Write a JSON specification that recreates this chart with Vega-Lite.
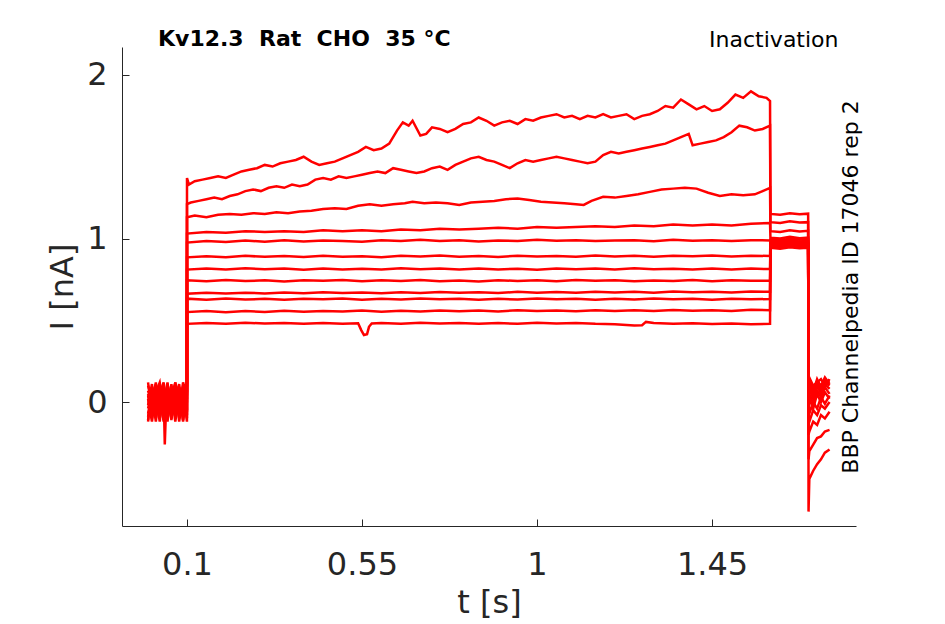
{
  "$schema": "https://vega.github.io/schema/vega-lite/v6.json",
  "width": 734,
  "height": 479,
  "autosize": "none",
  "padding": {"left": 122, "top": 47, "right": 89, "bottom": 98},
  "background": "white",
  "title": {"text": "Kv12.3\u00a0\u00a0Rat\u00a0\u00a0CHO\u00a0\u00a035\u00a0°C", "anchor": "start", "frame": "group", "dx": 36, "offset": -40, "font": "DejaVu Sans", "fontSize": 22, "fontWeight": "bold", "color": "#000000", "baseline": "alphabetic"},
  "config": {
    "view": {"stroke": null},
    "axis": {"grid": false, "domainColor": "#262626", "tickColor": "#262626", "labelColor": "#262626", "titleColor": "#262626", "labelFont": "DejaVu Sans", "titleFont": "DejaVu Sans", "titleFontWeight": "normal"}
  },
  "datasets": {
    "traces": [
      {"s":1,"t":0,"I":0.05},{"s":1,"t":0.01,"I":-0.06},{"s":1,"t":0.02,"I":0.08},{"s":1,"t":0.03,"I":-0.02},{"s":1,"t":0.04,"I":0.10},{"s":1,"t":0.05,"I":-0.08},{"s":1,"t":0.06,"I":0.04},{"s":1,"t":0.07,"I":-0.05},{"s":1,"t":0.08,"I":0.09},{"s":1,"t":0.09,"I":-0.03},{"s":1,"t":0.1,"I":0.02},
      {"s":1,"t":0.1001,"I":1.37},{"s":1,"t":0.105,"I":1.33},{"s":1,"t":0.12,"I":1.35},{"s":1,"t":0.14,"I":1.36},{"s":1,"t":0.16,"I":1.37},{"s":1,"t":0.18,"I":1.38},{"s":1,"t":0.2,"I":1.37},{"s":1,"t":0.22,"I":1.39},{"s":1,"t":0.24,"I":1.41},{"s":1,"t":0.26,"I":1.42},{"s":1,"t":0.28,"I":1.43},{"s":1,"t":0.3,"I":1.45},{"s":1,"t":0.32,"I":1.44},{"s":1,"t":0.34,"I":1.46},{"s":1,"t":0.36,"I":1.47},{"s":1,"t":0.38,"I":1.48},{"s":1,"t":0.4,"I":1.5},{"s":1,"t":0.42,"I":1.47},{"s":1,"t":0.44,"I":1.45},{"s":1,"t":0.46,"I":1.46},{"s":1,"t":0.48,"I":1.47},{"s":1,"t":0.5,"I":1.49},{"s":1,"t":0.52,"I":1.51},{"s":1,"t":0.54,"I":1.53},{"s":1,"t":0.56,"I":1.56},{"s":1,"t":0.58,"I":1.54},{"s":1,"t":0.6,"I":1.55},{"s":1,"t":0.62,"I":1.58},{"s":1,"t":0.64,"I":1.66},{"s":1,"t":0.655,"I":1.71},{"s":1,"t":0.67,"I":1.69},{"s":1,"t":0.68,"I":1.72},{"s":1,"t":0.7,"I":1.63},{"s":1,"t":0.715,"I":1.64},{"s":1,"t":0.73,"I":1.68},{"s":1,"t":0.75,"I":1.67},{"s":1,"t":0.77,"I":1.65},{"s":1,"t":0.79,"I":1.67},{"s":1,"t":0.81,"I":1.7},{"s":1,"t":0.83,"I":1.71},{"s":1,"t":0.85,"I":1.74},{"s":1,"t":0.87,"I":1.72},{"s":1,"t":0.89,"I":1.69},{"s":1,"t":0.91,"I":1.71},{"s":1,"t":0.93,"I":1.72},{"s":1,"t":0.95,"I":1.7},{"s":1,"t":0.97,"I":1.73},{"s":1,"t":0.99,"I":1.72},{"s":1,"t":1.01,"I":1.74},{"s":1,"t":1.03,"I":1.75},{"s":1,"t":1.05,"I":1.76},{"s":1,"t":1.07,"I":1.74},{"s":1,"t":1.09,"I":1.75},{"s":1,"t":1.11,"I":1.73},{"s":1,"t":1.13,"I":1.75},{"s":1,"t":1.15,"I":1.74},{"s":1,"t":1.17,"I":1.76},{"s":1,"t":1.19,"I":1.74},{"s":1,"t":1.21,"I":1.75},{"s":1,"t":1.23,"I":1.76},{"s":1,"t":1.25,"I":1.73},{"s":1,"t":1.27,"I":1.75},{"s":1,"t":1.29,"I":1.76},{"s":1,"t":1.31,"I":1.78},{"s":1,"t":1.33,"I":1.81},{"s":1,"t":1.35,"I":1.8},{"s":1,"t":1.37,"I":1.85},{"s":1,"t":1.39,"I":1.82},{"s":1,"t":1.41,"I":1.79},{"s":1,"t":1.43,"I":1.81},{"s":1,"t":1.45,"I":1.78},{"s":1,"t":1.47,"I":1.79},{"s":1,"t":1.49,"I":1.83},{"s":1,"t":1.51,"I":1.88},{"s":1,"t":1.53,"I":1.86},{"s":1,"t":1.55,"I":1.9},{"s":1,"t":1.57,"I":1.87},{"s":1,"t":1.59,"I":1.86},{"s":1,"t":1.599,"I":1.84},
      {"s":1,"t":1.6,"I":1.15},{"s":1,"t":1.625,"I":1.145},{"s":1,"t":1.65,"I":1.155},{"s":1,"t":1.675,"I":1.148},{"s":1,"t":1.697,"I":1.152},
      {"s":1,"t":1.698,"I":-0.67},{"s":1,"t":1.7,"I":-0.47},{"s":1,"t":1.71,"I":-0.42},{"s":1,"t":1.72,"I":-0.38},{"s":1,"t":1.73,"I":-0.35},{"s":1,"t":1.74,"I":-0.31},{"s":1,"t":1.752,"I":-0.29},

      {"s":2,"t":0,"I":-0.04},{"s":2,"t":0.01,"I":0.07},{"s":2,"t":0.02,"I":-0.1},{"s":2,"t":0.03,"I":0.03},{"s":2,"t":0.04,"I":-0.06},{"s":2,"t":0.05,"I":0.11},{"s":2,"t":0.06,"I":-0.02},{"s":2,"t":0.07,"I":0.06},{"s":2,"t":0.08,"I":-0.09},{"s":2,"t":0.09,"I":0.04},{"s":2,"t":0.1,"I":-0.05},
      {"s":2,"t":0.1001,"I":1.21},{"s":2,"t":0.11,"I":1.22},{"s":2,"t":0.13,"I":1.23},{"s":2,"t":0.15,"I":1.24},{"s":2,"t":0.17,"I":1.25},{"s":2,"t":0.19,"I":1.24},{"s":2,"t":0.21,"I":1.26},{"s":2,"t":0.23,"I":1.27},{"s":2,"t":0.25,"I":1.29},{"s":2,"t":0.27,"I":1.3},{"s":2,"t":0.29,"I":1.29},{"s":2,"t":0.31,"I":1.31},{"s":2,"t":0.33,"I":1.32},{"s":2,"t":0.35,"I":1.31},{"s":2,"t":0.37,"I":1.33},{"s":2,"t":0.39,"I":1.32},{"s":2,"t":0.41,"I":1.33},{"s":2,"t":0.43,"I":1.36},{"s":2,"t":0.45,"I":1.37},{"s":2,"t":0.47,"I":1.36},{"s":2,"t":0.49,"I":1.38},{"s":2,"t":0.51,"I":1.37},{"s":2,"t":0.53,"I":1.38},{"s":2,"t":0.55,"I":1.39},{"s":2,"t":0.57,"I":1.4},{"s":2,"t":0.59,"I":1.41},{"s":2,"t":0.61,"I":1.4},{"s":2,"t":0.63,"I":1.43},{"s":2,"t":0.65,"I":1.42},{"s":2,"t":0.67,"I":1.41},{"s":2,"t":0.69,"I":1.4},{"s":2,"t":0.71,"I":1.41},{"s":2,"t":0.73,"I":1.43},{"s":2,"t":0.75,"I":1.44},{"s":2,"t":0.77,"I":1.42},{"s":2,"t":0.79,"I":1.45},{"s":2,"t":0.81,"I":1.47},{"s":2,"t":0.83,"I":1.49},{"s":2,"t":0.85,"I":1.5},{"s":2,"t":0.87,"I":1.48},{"s":2,"t":0.89,"I":1.47},{"s":2,"t":0.91,"I":1.45},{"s":2,"t":0.93,"I":1.43},{"s":2,"t":0.95,"I":1.46},{"s":2,"t":0.97,"I":1.48},{"s":2,"t":0.99,"I":1.47},{"s":2,"t":1.01,"I":1.48},{"s":2,"t":1.03,"I":1.49},{"s":2,"t":1.05,"I":1.5},{"s":2,"t":1.07,"I":1.49},{"s":2,"t":1.09,"I":1.48},{"s":2,"t":1.11,"I":1.47},{"s":2,"t":1.13,"I":1.46},{"s":2,"t":1.15,"I":1.47},{"s":2,"t":1.17,"I":1.51},{"s":2,"t":1.19,"I":1.53},{"s":2,"t":1.21,"I":1.52},{"s":2,"t":1.23,"I":1.53},{"s":2,"t":1.25,"I":1.54},{"s":2,"t":1.27,"I":1.55},{"s":2,"t":1.29,"I":1.56},{"s":2,"t":1.31,"I":1.57},{"s":2,"t":1.33,"I":1.58},{"s":2,"t":1.35,"I":1.6},{"s":2,"t":1.37,"I":1.62},{"s":2,"t":1.39,"I":1.64},{"s":2,"t":1.4,"I":1.57},{"s":2,"t":1.42,"I":1.58},{"s":2,"t":1.44,"I":1.59},{"s":2,"t":1.46,"I":1.6},{"s":2,"t":1.48,"I":1.62},{"s":2,"t":1.5,"I":1.65},{"s":2,"t":1.52,"I":1.69},{"s":2,"t":1.54,"I":1.68},{"s":2,"t":1.56,"I":1.66},{"s":2,"t":1.58,"I":1.67},{"s":2,"t":1.599,"I":1.69},
      {"s":2,"t":1.6,"I":1.1},{"s":2,"t":1.625,"I":1.095},{"s":2,"t":1.65,"I":1.105},{"s":2,"t":1.675,"I":1.098},{"s":2,"t":1.697,"I":1.1},
      {"s":2,"t":1.698,"I":-0.35},{"s":2,"t":1.7,"I":-0.3},{"s":2,"t":1.71,"I":-0.26},{"s":2,"t":1.72,"I":-0.22},{"s":2,"t":1.73,"I":-0.21},{"s":2,"t":1.74,"I":-0.18},{"s":2,"t":1.752,"I":-0.17},

      {"s":3,"t":0,"I":0.1},{"s":3,"t":0.01,"I":0.02},{"s":3,"t":0.02,"I":-0.05},{"s":3,"t":0.03,"I":0.09},{"s":3,"t":0.04,"I":-0.11},{"s":3,"t":0.05,"I":0.05},{"s":3,"t":0.06,"I":-0.07},{"s":3,"t":0.07,"I":0.12},{"s":3,"t":0.08,"I":0.0},{"s":3,"t":0.09,"I":-0.08},{"s":3,"t":0.1,"I":0.07},
      {"s":3,"t":0.1001,"I":1.13},{"s":3,"t":0.12,"I":1.14},{"s":3,"t":0.15,"I":1.13},{"s":3,"t":0.18,"I":1.145},{"s":3,"t":0.21,"I":1.15},{"s":3,"t":0.24,"I":1.145},{"s":3,"t":0.27,"I":1.155},{"s":3,"t":0.3,"I":1.15},{"s":3,"t":0.33,"I":1.16},{"s":3,"t":0.36,"I":1.155},{"s":3,"t":0.39,"I":1.165},{"s":3,"t":0.42,"I":1.17},{"s":3,"t":0.45,"I":1.18},{"s":3,"t":0.48,"I":1.185},{"s":3,"t":0.51,"I":1.18},{"s":3,"t":0.54,"I":1.2},{"s":3,"t":0.57,"I":1.21},{"s":3,"t":0.6,"I":1.2},{"s":3,"t":0.63,"I":1.21},{"s":3,"t":0.66,"I":1.215},{"s":3,"t":0.68,"I":1.225},{"s":3,"t":0.71,"I":1.215},{"s":3,"t":0.74,"I":1.22},{"s":3,"t":0.77,"I":1.215},{"s":3,"t":0.8,"I":1.205},{"s":3,"t":0.83,"I":1.22},{"s":3,"t":0.86,"I":1.225},{"s":3,"t":0.89,"I":1.23},{"s":3,"t":0.92,"I":1.24},{"s":3,"t":0.95,"I":1.245},{"s":3,"t":0.98,"I":1.235},{"s":3,"t":1.01,"I":1.225},{"s":3,"t":1.04,"I":1.22},{"s":3,"t":1.07,"I":1.215},{"s":3,"t":1.1,"I":1.21},{"s":3,"t":1.12,"I":1.205},{"s":3,"t":1.14,"I":1.23},{"s":3,"t":1.17,"I":1.255},{"s":3,"t":1.2,"I":1.25},{"s":3,"t":1.23,"I":1.26},{"s":3,"t":1.26,"I":1.27},{"s":3,"t":1.29,"I":1.285},{"s":3,"t":1.32,"I":1.3},{"s":3,"t":1.35,"I":1.305},{"s":3,"t":1.38,"I":1.31},{"s":3,"t":1.41,"I":1.305},{"s":3,"t":1.44,"I":1.28},{"s":3,"t":1.47,"I":1.26},{"s":3,"t":1.5,"I":1.27},{"s":3,"t":1.53,"I":1.265},{"s":3,"t":1.56,"I":1.27},{"s":3,"t":1.58,"I":1.29},{"s":3,"t":1.599,"I":1.31},
      {"s":3,"t":1.6,"I":1.045},{"s":3,"t":1.625,"I":1.04},{"s":3,"t":1.65,"I":1.05},{"s":3,"t":1.675,"I":1.043},{"s":3,"t":1.697,"I":1.047},
      {"s":3,"t":1.698,"I":-0.2},{"s":3,"t":1.7,"I":-0.18},{"s":3,"t":1.71,"I":-0.12},{"s":3,"t":1.72,"I":-0.14},{"s":3,"t":1.73,"I":-0.08},{"s":3,"t":1.74,"I":-0.1},{"s":3,"t":1.752,"I":-0.06},

      {"s":4,"t":0,"I":-0.09},{"s":4,"t":0.01,"I":0.04},{"s":4,"t":0.02,"I":0.11},{"s":4,"t":0.03,"I":-0.07},{"s":4,"t":0.04,"I":0.06},{"s":4,"t":0.043,"I":-0.26},{"s":4,"t":0.046,"I":-0.05},{"s":4,"t":0.05,"I":0.02},{"s":4,"t":0.06,"I":-0.1},{"s":4,"t":0.07,"I":0.08},{"s":4,"t":0.08,"I":-0.04},{"s":4,"t":0.09,"I":0.1},{"s":4,"t":0.1,"I":-0.06},
      {"s":4,"t":0.1001,"I":1.03},{"s":4,"t":0.15,"I":1.04},{"s":4,"t":0.2,"I":1.035},{"s":4,"t":0.25,"I":1.045},{"s":4,"t":0.3,"I":1.04},{"s":4,"t":0.35,"I":1.045},{"s":4,"t":0.4,"I":1.04},{"s":4,"t":0.45,"I":1.05},{"s":4,"t":0.5,"I":1.045},{"s":4,"t":0.55,"I":1.05},{"s":4,"t":0.6,"I":1.045},{"s":4,"t":0.65,"I":1.055},{"s":4,"t":0.7,"I":1.05},{"s":4,"t":0.75,"I":1.06},{"s":4,"t":0.8,"I":1.055},{"s":4,"t":0.85,"I":1.06},{"s":4,"t":0.9,"I":1.065},{"s":4,"t":0.95,"I":1.06},{"s":4,"t":1.0,"I":1.07},{"s":4,"t":1.05,"I":1.065},{"s":4,"t":1.1,"I":1.07},{"s":4,"t":1.15,"I":1.075},{"s":4,"t":1.2,"I":1.07},{"s":4,"t":1.25,"I":1.08},{"s":4,"t":1.3,"I":1.075},{"s":4,"t":1.35,"I":1.085},{"s":4,"t":1.4,"I":1.08},{"s":4,"t":1.45,"I":1.085},{"s":4,"t":1.5,"I":1.08},{"s":4,"t":1.55,"I":1.09},{"s":4,"t":1.599,"I":1.095},
      {"s":4,"t":1.6,"I":1.005},{"s":4,"t":1.625,"I":1.0},{"s":4,"t":1.65,"I":1.01},{"s":4,"t":1.675,"I":1.002},{"s":4,"t":1.697,"I":1.006},
      {"s":4,"t":1.698,"I":-0.1},{"s":4,"t":1.7,"I":-0.12},{"s":4,"t":1.71,"I":-0.05},{"s":4,"t":1.72,"I":-0.08},{"s":4,"t":1.73,"I":-0.02},{"s":4,"t":1.74,"I":-0.04},{"s":4,"t":1.752,"I":0.0},

      {"s":5,"t":0,"I":0.02},{"s":5,"t":0.01,"I":-0.12},{"s":5,"t":0.02,"I":0.06},{"s":5,"t":0.03,"I":0.12},{"s":5,"t":0.04,"I":-0.04},{"s":5,"t":0.05,"I":0.08},{"s":5,"t":0.06,"I":-0.1},{"s":5,"t":0.07,"I":0.03},{"s":5,"t":0.08,"I":0.11},{"s":5,"t":0.09,"I":-0.06},{"s":5,"t":0.1,"I":0.0},
      {"s":5,"t":0.1001,"I":0.975},{"s":5,"t":0.15,"I":0.985},{"s":5,"t":0.2,"I":0.978},{"s":5,"t":0.25,"I":0.988},{"s":5,"t":0.3,"I":0.98},{"s":5,"t":0.35,"I":0.99},{"s":5,"t":0.4,"I":0.982},{"s":5,"t":0.45,"I":0.988},{"s":5,"t":0.5,"I":0.985},{"s":5,"t":0.55,"I":0.98},{"s":5,"t":0.6,"I":0.99},{"s":5,"t":0.65,"I":0.984},{"s":5,"t":0.7,"I":0.992},{"s":5,"t":0.75,"I":0.985},{"s":5,"t":0.8,"I":0.99},{"s":5,"t":0.85,"I":0.982},{"s":5,"t":0.9,"I":0.988},{"s":5,"t":0.95,"I":0.985},{"s":5,"t":1.0,"I":0.992},{"s":5,"t":1.05,"I":0.986},{"s":5,"t":1.1,"I":0.99},{"s":5,"t":1.15,"I":0.984},{"s":5,"t":1.2,"I":0.988},{"s":5,"t":1.25,"I":0.99},{"s":5,"t":1.3,"I":0.983},{"s":5,"t":1.35,"I":0.992},{"s":5,"t":1.4,"I":0.986},{"s":5,"t":1.45,"I":0.99},{"s":5,"t":1.5,"I":0.985},{"s":5,"t":1.55,"I":0.99},{"s":5,"t":1.599,"I":0.988},
      {"s":5,"t":1.6,"I":0.995},{"s":5,"t":1.625,"I":0.99},{"s":5,"t":1.65,"I":0.998},{"s":5,"t":1.675,"I":0.992},{"s":5,"t":1.697,"I":0.996},
      {"s":5,"t":1.698,"I":-0.05},{"s":5,"t":1.7,"I":-0.07},{"s":5,"t":1.71,"I":0.0},{"s":5,"t":1.72,"I":-0.04},{"s":5,"t":1.73,"I":0.03},{"s":5,"t":1.74,"I":-0.01},{"s":5,"t":1.752,"I":0.04},

      {"s":6,"t":0,"I":-0.11},{"s":6,"t":0.01,"I":0.09},{"s":6,"t":0.02,"I":-0.03},{"s":6,"t":0.03,"I":0.05},{"s":6,"t":0.04,"I":0.12},{"s":6,"t":0.05,"I":-0.09},{"s":6,"t":0.06,"I":0.07},{"s":6,"t":0.07,"I":-0.12},{"s":6,"t":0.08,"I":0.04},{"s":6,"t":0.09,"I":0.09},{"s":6,"t":0.1,"I":-0.1},
      {"s":6,"t":0.1001,"I":0.885},{"s":6,"t":0.15,"I":0.892},{"s":6,"t":0.2,"I":0.886},{"s":6,"t":0.25,"I":0.894},{"s":6,"t":0.3,"I":0.888},{"s":6,"t":0.35,"I":0.893},{"s":6,"t":0.4,"I":0.887},{"s":6,"t":0.45,"I":0.895},{"s":6,"t":0.5,"I":0.889},{"s":6,"t":0.55,"I":0.892},{"s":6,"t":0.6,"I":0.886},{"s":6,"t":0.65,"I":0.894},{"s":6,"t":0.7,"I":0.89},{"s":6,"t":0.75,"I":0.896},{"s":6,"t":0.8,"I":0.888},{"s":6,"t":0.85,"I":0.893},{"s":6,"t":0.9,"I":0.887},{"s":6,"t":0.95,"I":0.895},{"s":6,"t":1.0,"I":0.89},{"s":6,"t":1.05,"I":0.893},{"s":6,"t":1.1,"I":0.888},{"s":6,"t":1.15,"I":0.896},{"s":6,"t":1.2,"I":0.89},{"s":6,"t":1.25,"I":0.894},{"s":6,"t":1.3,"I":0.889},{"s":6,"t":1.35,"I":0.895},{"s":6,"t":1.4,"I":0.891},{"s":6,"t":1.45,"I":0.896},{"s":6,"t":1.5,"I":0.89},{"s":6,"t":1.55,"I":0.895},{"s":6,"t":1.599,"I":0.893},
      {"s":6,"t":1.6,"I":0.985},{"s":6,"t":1.625,"I":0.98},{"s":6,"t":1.65,"I":0.988},{"s":6,"t":1.675,"I":0.982},{"s":6,"t":1.697,"I":0.986},
      {"s":6,"t":1.698,"I":-0.02},{"s":6,"t":1.7,"I":0.02},{"s":6,"t":1.71,"I":-0.04},{"s":6,"t":1.72,"I":0.05},{"s":6,"t":1.73,"I":0.0},{"s":6,"t":1.74,"I":0.06},{"s":6,"t":1.752,"I":0.02},

      {"s":7,"t":0,"I":0.07},{"s":7,"t":0.01,"I":-0.02},{"s":7,"t":0.02,"I":0.12},{"s":7,"t":0.03,"I":-0.1},{"s":7,"t":0.04,"I":0.02},{"s":7,"t":0.05,"I":0.06},{"s":7,"t":0.06,"I":-0.11},{"s":7,"t":0.07,"I":0.09},{"s":7,"t":0.08,"I":-0.06},{"s":7,"t":0.09,"I":0.12},{"s":7,"t":0.1,"I":0.04},
      {"s":7,"t":0.1001,"I":0.81},{"s":7,"t":0.15,"I":0.817},{"s":7,"t":0.2,"I":0.81},{"s":7,"t":0.25,"I":0.818},{"s":7,"t":0.3,"I":0.812},{"s":7,"t":0.35,"I":0.816},{"s":7,"t":0.4,"I":0.809},{"s":7,"t":0.45,"I":0.817},{"s":7,"t":0.5,"I":0.811},{"s":7,"t":0.55,"I":0.815},{"s":7,"t":0.6,"I":0.81},{"s":7,"t":0.65,"I":0.818},{"s":7,"t":0.7,"I":0.812},{"s":7,"t":0.75,"I":0.816},{"s":7,"t":0.8,"I":0.81},{"s":7,"t":0.85,"I":0.817},{"s":7,"t":0.9,"I":0.811},{"s":7,"t":0.95,"I":0.815},{"s":7,"t":1.0,"I":0.809},{"s":7,"t":1.05,"I":0.817},{"s":7,"t":1.1,"I":0.812},{"s":7,"t":1.15,"I":0.816},{"s":7,"t":1.2,"I":0.81},{"s":7,"t":1.25,"I":0.818},{"s":7,"t":1.3,"I":0.812},{"s":7,"t":1.35,"I":0.815},{"s":7,"t":1.4,"I":0.81},{"s":7,"t":1.45,"I":0.817},{"s":7,"t":1.5,"I":0.811},{"s":7,"t":1.55,"I":0.816},{"s":7,"t":1.599,"I":0.813},
      {"s":7,"t":1.6,"I":0.977},{"s":7,"t":1.625,"I":0.972},{"s":7,"t":1.65,"I":0.98},{"s":7,"t":1.675,"I":0.974},{"s":7,"t":1.697,"I":0.978},
      {"s":7,"t":1.698,"I":0.0},{"s":7,"t":1.7,"I":0.05},{"s":7,"t":1.71,"I":-0.01},{"s":7,"t":1.72,"I":0.07},{"s":7,"t":1.73,"I":0.03},{"s":7,"t":1.74,"I":0.09},{"s":7,"t":1.752,"I":0.05},

      {"s":8,"t":0,"I":-0.02},{"s":8,"t":0.01,"I":0.11},{"s":8,"t":0.02,"I":-0.08},{"s":8,"t":0.03,"I":0.08},{"s":8,"t":0.04,"I":-0.12},{"s":8,"t":0.05,"I":0.01},{"s":8,"t":0.06,"I":0.1},{"s":8,"t":0.07,"I":-0.04},{"s":8,"t":0.08,"I":0.06},{"s":8,"t":0.09,"I":-0.11},{"s":8,"t":0.1,"I":0.1},
      {"s":8,"t":0.1001,"I":0.745},{"s":8,"t":0.15,"I":0.738},{"s":8,"t":0.2,"I":0.746},{"s":8,"t":0.25,"I":0.74},{"s":8,"t":0.3,"I":0.744},{"s":8,"t":0.35,"I":0.737},{"s":8,"t":0.4,"I":0.745},{"s":8,"t":0.45,"I":0.741},{"s":8,"t":0.5,"I":0.746},{"s":8,"t":0.55,"I":0.738},{"s":8,"t":0.6,"I":0.744},{"s":8,"t":0.65,"I":0.74},{"s":8,"t":0.7,"I":0.746},{"s":8,"t":0.75,"I":0.739},{"s":8,"t":0.8,"I":0.743},{"s":8,"t":0.85,"I":0.737},{"s":8,"t":0.9,"I":0.745},{"s":8,"t":0.95,"I":0.74},{"s":8,"t":1.0,"I":0.744},{"s":8,"t":1.05,"I":0.738},{"s":8,"t":1.1,"I":0.746},{"s":8,"t":1.15,"I":0.741},{"s":8,"t":1.2,"I":0.745},{"s":8,"t":1.25,"I":0.738},{"s":8,"t":1.3,"I":0.743},{"s":8,"t":1.35,"I":0.74},{"s":8,"t":1.4,"I":0.746},{"s":8,"t":1.45,"I":0.739},{"s":8,"t":1.5,"I":0.744},{"s":8,"t":1.55,"I":0.741},{"s":8,"t":1.599,"I":0.742},
      {"s":8,"t":1.6,"I":0.97},{"s":8,"t":1.625,"I":0.965},{"s":8,"t":1.65,"I":0.973},{"s":8,"t":1.675,"I":0.967},{"s":8,"t":1.697,"I":0.971},
      {"s":8,"t":1.698,"I":0.03},{"s":8,"t":1.7,"I":0.08},{"s":8,"t":1.71,"I":0.02},{"s":8,"t":1.72,"I":0.1},{"s":8,"t":1.73,"I":0.05},{"s":8,"t":1.74,"I":0.11},{"s":8,"t":1.752,"I":0.08},

      {"s":9,"t":0,"I":0.12},{"s":9,"t":0.01,"I":-0.07},{"s":9,"t":0.02,"I":0.03},{"s":9,"t":0.03,"I":-0.12},{"s":9,"t":0.04,"I":0.09},{"s":9,"t":0.05,"I":-0.03},{"s":9,"t":0.06,"I":0.05},{"s":9,"t":0.07,"I":0.11},{"s":9,"t":0.08,"I":-0.1},{"s":9,"t":0.09,"I":0.02},{"s":9,"t":0.1,"I":-0.08},
      {"s":9,"t":0.1001,"I":0.662},{"s":9,"t":0.15,"I":0.668},{"s":9,"t":0.2,"I":0.663},{"s":9,"t":0.25,"I":0.669},{"s":9,"t":0.3,"I":0.664},{"s":9,"t":0.35,"I":0.67},{"s":9,"t":0.4,"I":0.665},{"s":9,"t":0.45,"I":0.671},{"s":9,"t":0.5,"I":0.666},{"s":9,"t":0.55,"I":0.67},{"s":9,"t":0.6,"I":0.665},{"s":9,"t":0.65,"I":0.672},{"s":9,"t":0.7,"I":0.667},{"s":9,"t":0.75,"I":0.673},{"s":9,"t":0.8,"I":0.668},{"s":9,"t":0.85,"I":0.672},{"s":9,"t":0.9,"I":0.667},{"s":9,"t":0.95,"I":0.674},{"s":9,"t":1.0,"I":0.669},{"s":9,"t":1.05,"I":0.673},{"s":9,"t":1.1,"I":0.668},{"s":9,"t":1.15,"I":0.675},{"s":9,"t":1.2,"I":0.67},{"s":9,"t":1.25,"I":0.674},{"s":9,"t":1.3,"I":0.669},{"s":9,"t":1.35,"I":0.676},{"s":9,"t":1.4,"I":0.671},{"s":9,"t":1.45,"I":0.675},{"s":9,"t":1.5,"I":0.67},{"s":9,"t":1.55,"I":0.676},{"s":9,"t":1.599,"I":0.674},
      {"s":9,"t":1.6,"I":0.963},{"s":9,"t":1.625,"I":0.958},{"s":9,"t":1.65,"I":0.966},{"s":9,"t":1.675,"I":0.96},{"s":9,"t":1.697,"I":0.964},
      {"s":9,"t":1.698,"I":0.05},{"s":9,"t":1.7,"I":0.1},{"s":9,"t":1.71,"I":0.04},{"s":9,"t":1.72,"I":0.12},{"s":9,"t":1.73,"I":0.07},{"s":9,"t":1.74,"I":0.13},{"s":9,"t":1.752,"I":0.1},

      {"s":10,"t":0,"I":-0.07},{"s":10,"t":0.01,"I":0.05},{"s":10,"t":0.02,"I":-0.12},{"s":10,"t":0.03,"I":0.1},{"s":10,"t":0.04,"I":-0.01},{"s":10,"t":0.05,"I":0.12},{"s":10,"t":0.06,"I":-0.08},{"s":10,"t":0.07,"I":0.0},{"s":10,"t":0.08,"I":0.07},{"s":10,"t":0.09,"I":-0.12},{"s":10,"t":0.1,"I":0.06},
      {"s":10,"t":0.1001,"I":0.632},{"s":10,"t":0.15,"I":0.626},{"s":10,"t":0.2,"I":0.633},{"s":10,"t":0.25,"I":0.627},{"s":10,"t":0.3,"I":0.631},{"s":10,"t":0.35,"I":0.625},{"s":10,"t":0.4,"I":0.632},{"s":10,"t":0.45,"I":0.628},{"s":10,"t":0.5,"I":0.633},{"s":10,"t":0.55,"I":0.626},{"s":10,"t":0.6,"I":0.631},{"s":10,"t":0.65,"I":0.627},{"s":10,"t":0.7,"I":0.633},{"s":10,"t":0.75,"I":0.628},{"s":10,"t":0.8,"I":0.632},{"s":10,"t":0.85,"I":0.626},{"s":10,"t":0.9,"I":0.631},{"s":10,"t":0.95,"I":0.627},{"s":10,"t":1.0,"I":0.633},{"s":10,"t":1.05,"I":0.628},{"s":10,"t":1.1,"I":0.632},{"s":10,"t":1.15,"I":0.626},{"s":10,"t":1.2,"I":0.631},{"s":10,"t":1.25,"I":0.627},{"s":10,"t":1.3,"I":0.633},{"s":10,"t":1.35,"I":0.628},{"s":10,"t":1.4,"I":0.631},{"s":10,"t":1.45,"I":0.626},{"s":10,"t":1.5,"I":0.632},{"s":10,"t":1.55,"I":0.628},{"s":10,"t":1.599,"I":0.63},
      {"s":10,"t":1.6,"I":0.956},{"s":10,"t":1.625,"I":0.951},{"s":10,"t":1.65,"I":0.959},{"s":10,"t":1.675,"I":0.953},{"s":10,"t":1.697,"I":0.957},
      {"s":10,"t":1.698,"I":0.07},{"s":10,"t":1.7,"I":0.12},{"s":10,"t":1.71,"I":0.06},{"s":10,"t":1.72,"I":0.14},{"s":10,"t":1.73,"I":0.09},{"s":10,"t":1.74,"I":0.12},{"s":10,"t":1.752,"I":0.13},

      {"s":11,"t":0,"I":0.04},{"s":11,"t":0.01,"I":-0.1},{"s":11,"t":0.02,"I":0.09},{"s":11,"t":0.03,"I":-0.05},{"s":11,"t":0.04,"I":0.07},{"s":11,"t":0.05,"I":-0.12},{"s":11,"t":0.06,"I":0.11},{"s":11,"t":0.07,"I":-0.09},{"s":11,"t":0.08,"I":0.03},{"s":11,"t":0.09,"I":0.08},{"s":11,"t":0.1,"I":-0.12},
      {"s":11,"t":0.1001,"I":0.55},{"s":11,"t":0.15,"I":0.556},{"s":11,"t":0.2,"I":0.549},{"s":11,"t":0.25,"I":0.557},{"s":11,"t":0.3,"I":0.551},{"s":11,"t":0.35,"I":0.558},{"s":11,"t":0.4,"I":0.552},{"s":11,"t":0.45,"I":0.557},{"s":11,"t":0.5,"I":0.553},{"s":11,"t":0.55,"I":0.559},{"s":11,"t":0.6,"I":0.552},{"s":11,"t":0.65,"I":0.558},{"s":11,"t":0.7,"I":0.554},{"s":11,"t":0.75,"I":0.56},{"s":11,"t":0.8,"I":0.555},{"s":11,"t":0.85,"I":0.559},{"s":11,"t":0.9,"I":0.554},{"s":11,"t":0.95,"I":0.561},{"s":11,"t":1.0,"I":0.556},{"s":11,"t":1.05,"I":0.56},{"s":11,"t":1.1,"I":0.555},{"s":11,"t":1.15,"I":0.562},{"s":11,"t":1.2,"I":0.557},{"s":11,"t":1.25,"I":0.561},{"s":11,"t":1.3,"I":0.556},{"s":11,"t":1.35,"I":0.563},{"s":11,"t":1.4,"I":0.558},{"s":11,"t":1.45,"I":0.562},{"s":11,"t":1.5,"I":0.557},{"s":11,"t":1.55,"I":0.564},{"s":11,"t":1.599,"I":0.562},
      {"s":11,"t":1.6,"I":0.95},{"s":11,"t":1.625,"I":0.945},{"s":11,"t":1.65,"I":0.953},{"s":11,"t":1.675,"I":0.947},{"s":11,"t":1.697,"I":0.951},
      {"s":11,"t":1.698,"I":0.09},{"s":11,"t":1.7,"I":0.14},{"s":11,"t":1.71,"I":0.08},{"s":11,"t":1.72,"I":0.13},{"s":11,"t":1.73,"I":0.1},{"s":11,"t":1.74,"I":0.15},{"s":11,"t":1.752,"I":0.11},

      {"s":12,"t":0,"I":-0.12},{"s":12,"t":0.01,"I":0.08},{"s":12,"t":0.02,"I":-0.06},{"s":12,"t":0.03,"I":0.11},{"s":12,"t":0.04,"I":-0.08},{"s":12,"t":0.05,"I":0.04},{"s":12,"t":0.06,"I":0.0},{"s":12,"t":0.07,"I":0.12},{"s":12,"t":0.08,"I":-0.12},{"s":12,"t":0.09,"I":0.05},{"s":12,"t":0.1,"I":0.11},
      {"s":12,"t":0.1001,"I":0.478},{"s":12,"t":0.15,"I":0.484},{"s":12,"t":0.2,"I":0.479},{"s":12,"t":0.25,"I":0.485},{"s":12,"t":0.3,"I":0.48},{"s":12,"t":0.35,"I":0.484},{"s":12,"t":0.4,"I":0.478},{"s":12,"t":0.45,"I":0.483},{"s":12,"t":0.5,"I":0.479},{"s":12,"t":0.54,"I":0.482},{"s":12,"t":0.548,"I":0.44},{"s":12,"t":0.555,"I":0.41},{"s":12,"t":0.563,"I":0.415},{"s":12,"t":0.568,"I":0.46},{"s":12,"t":0.575,"I":0.48},{"s":12,"t":0.6,"I":0.484},{"s":12,"t":0.65,"I":0.479},{"s":12,"t":0.7,"I":0.485},{"s":12,"t":0.75,"I":0.48},{"s":12,"t":0.8,"I":0.484},{"s":12,"t":0.85,"I":0.478},{"s":12,"t":0.9,"I":0.483},{"s":12,"t":0.95,"I":0.479},{"s":12,"t":1.0,"I":0.485},{"s":12,"t":1.05,"I":0.48},{"s":12,"t":1.1,"I":0.483},{"s":12,"t":1.15,"I":0.478},{"s":12,"t":1.2,"I":0.476},{"s":12,"t":1.25,"I":0.468},{"s":12,"t":1.27,"I":0.47},{"s":12,"t":1.28,"I":0.49},{"s":12,"t":1.3,"I":0.483},{"s":12,"t":1.35,"I":0.478},{"s":12,"t":1.4,"I":0.482},{"s":12,"t":1.45,"I":0.477},{"s":12,"t":1.5,"I":0.481},{"s":12,"t":1.55,"I":0.476},{"s":12,"t":1.599,"I":0.478},
      {"s":12,"t":1.6,"I":0.943},{"s":12,"t":1.625,"I":0.938},{"s":12,"t":1.65,"I":0.946},{"s":12,"t":1.675,"I":0.94},{"s":12,"t":1.697,"I":0.944},
      {"s":12,"t":1.698,"I":0.1},{"s":12,"t":1.7,"I":0.15},{"s":12,"t":1.71,"I":0.1},{"s":12,"t":1.72,"I":0.12},{"s":12,"t":1.73,"I":0.14},{"s":12,"t":1.74,"I":0.1},{"s":12,"t":1.752,"I":0.14}
    ]
  },
  "data": {"name": "traces"},
  "layer": [
    {
      "mark": {"type": "line", "color": "#ff0000", "strokeWidth": 2.5},
      "encoding": {
        "x": {
          "field": "t", "type": "quantitative",
          "scale": {"domain": [-0.067, 1.82], "nice": false, "zero": false},
          "axis": {"values": [0.1, 0.55, 1, 1.45], "format": ".2~f", "title": "t [s]", "tickSize": -7, "labelPadding": 30, "labelFontSize": 32, "labelFlush": false, "labelOverlap": false, "titleFontSize": 32, "titleBaseline": "alphabetic", "titleY": 86}
        },
        "y": {
          "field": "I", "type": "quantitative",
          "scale": {"domain": [-0.758, 2.171], "nice": false, "zero": false},
          "axis": {"values": [0, 1, 2], "format": "~g", "title": "I [nA]", "tickSize": -7, "labelPadding": 22, "labelFontSize": 32, "labelFlush": false, "titleFontSize": 32, "titleBaseline": "alphabetic", "titleX": -50}
        },
        "detail": {"field": "s", "type": "nominal"}
      }
    },
    {
      "mark": {"type": "point", "opacity": 0},
      "encoding": {
        "x": {
          "field": "t", "type": "quantitative",
          "axis": {"orient": "top", "title": "Inactivation", "domain": false, "ticks": false, "labels": false, "titleFontSize": 22, "titleColor": "#000000", "titleBaseline": "alphabetic", "titleAlign": "right", "titleX": 716, "titlePadding": 1}
        },
        "y": {
          "field": "I", "type": "quantitative",
          "axis": {"orient": "right", "title": "BBP Channelpedia ID 17046 rep 2", "domain": false, "ticks": false, "labels": false, "titleFontSize": 22, "titleColor": "#000000", "titleAngle": 270, "titleBaseline": "alphabetic", "titlePadding": 1}
        }
      }
    }
  ],
  "resolve": {"axis": {"x": "independent", "y": "independent"}}
}
